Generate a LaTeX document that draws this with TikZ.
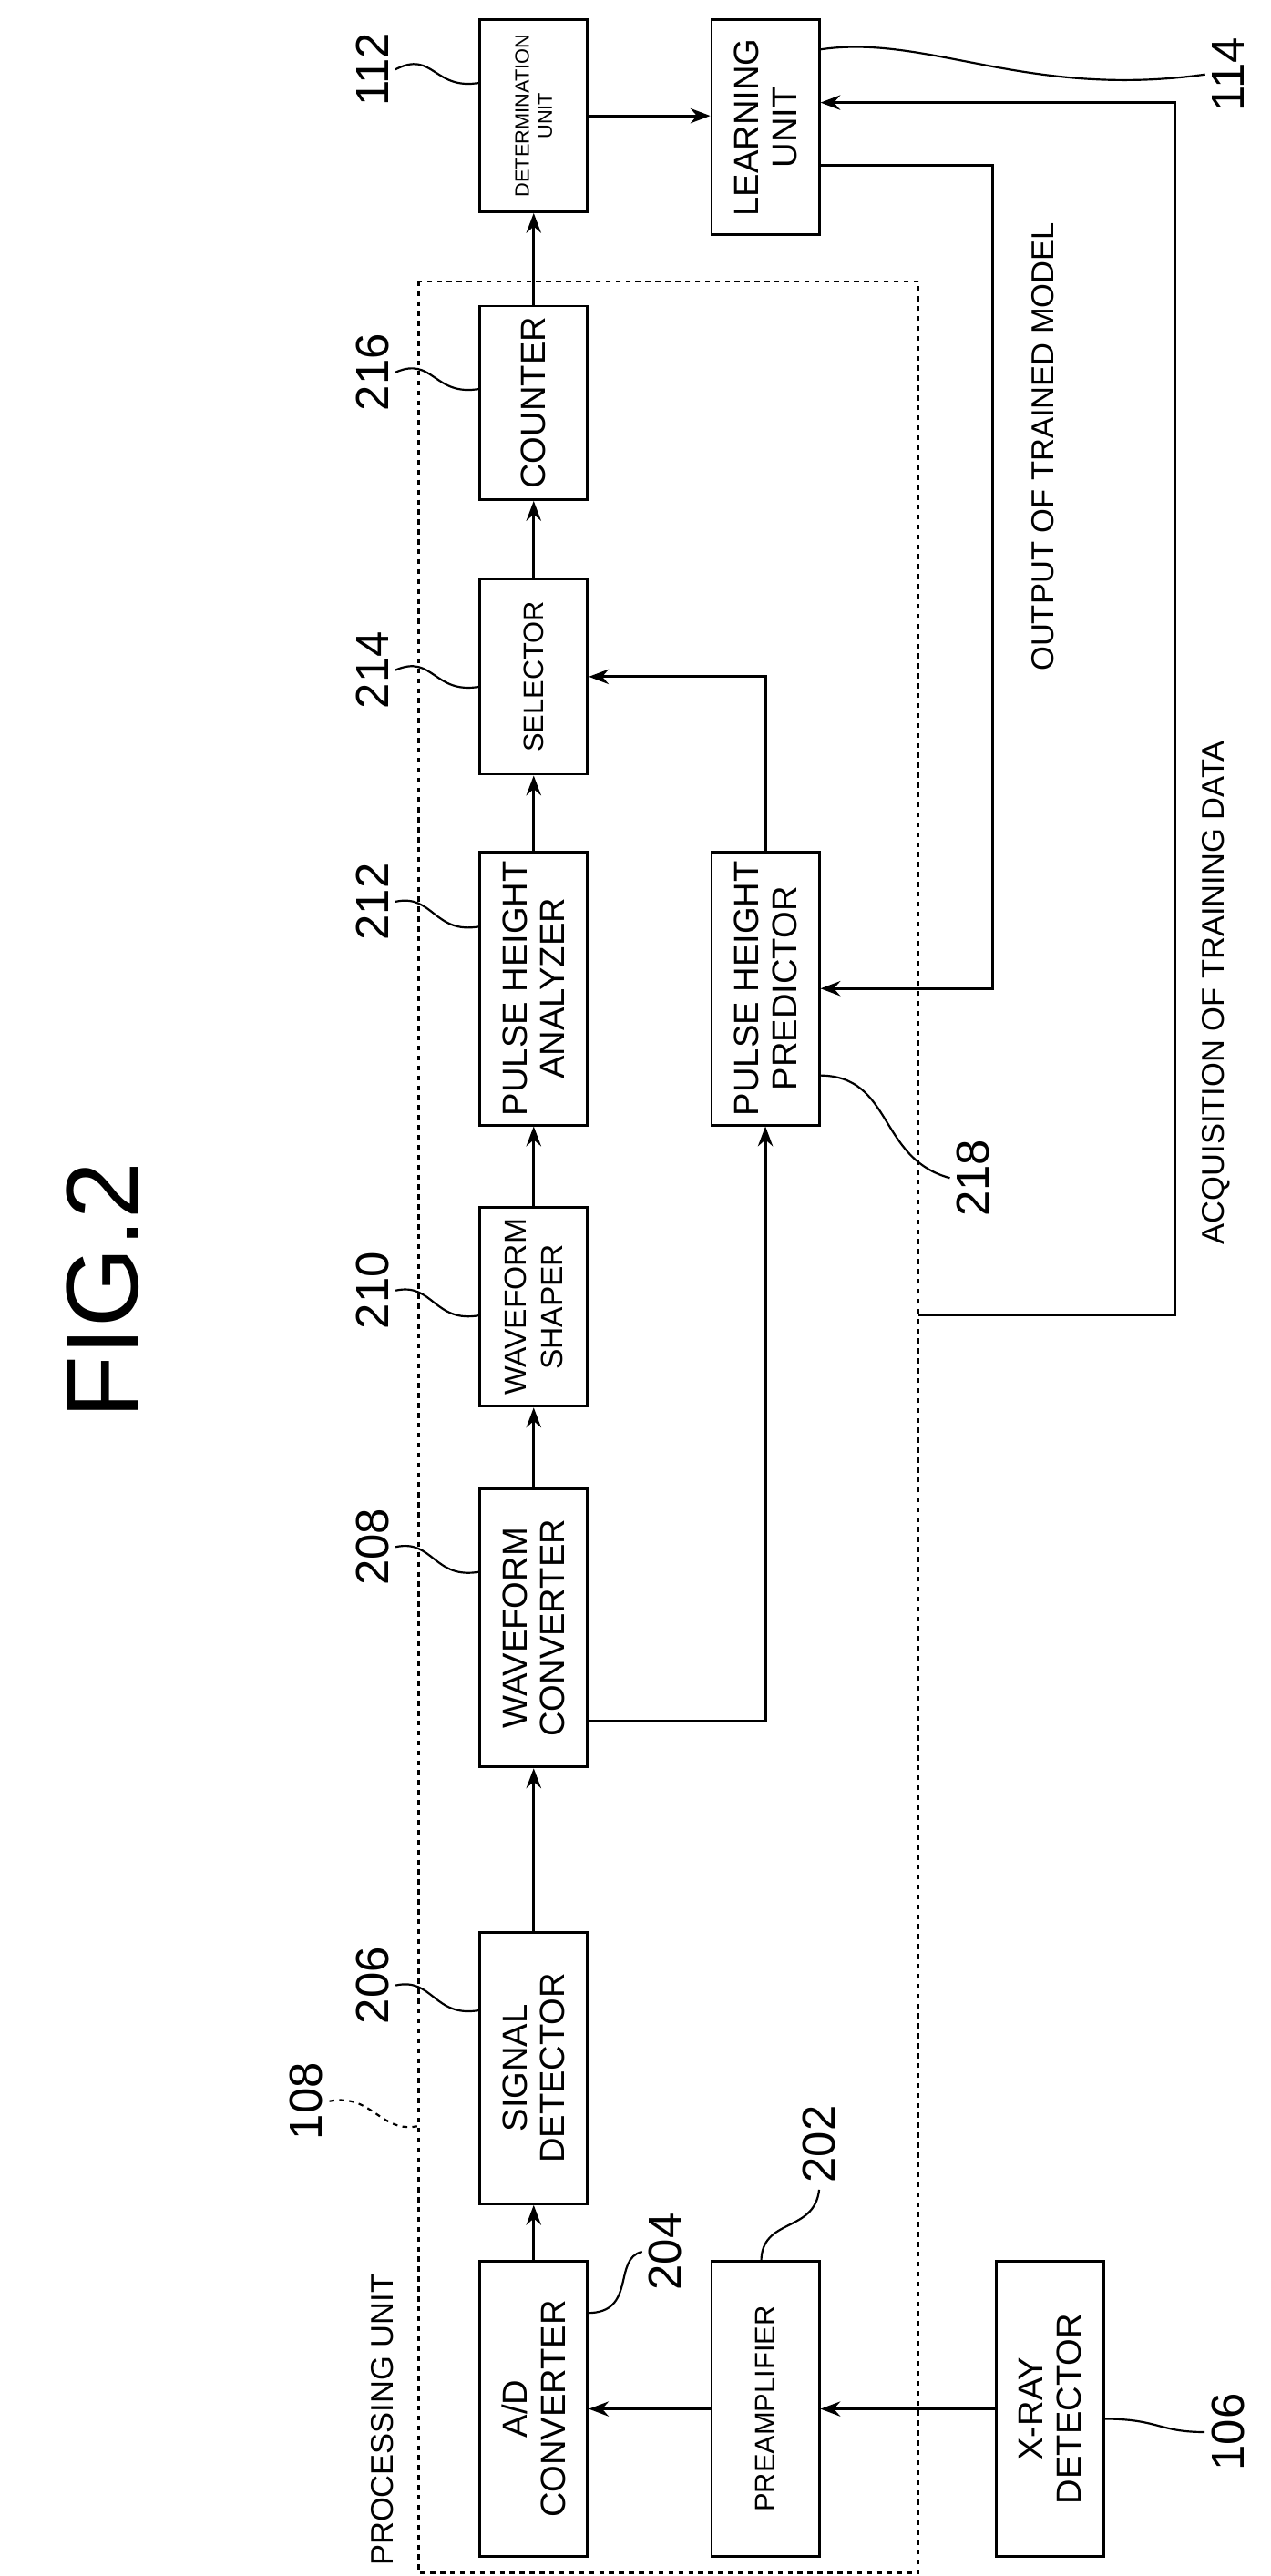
\documentclass[tikz,border=0pt]{standalone}
\usepackage{fontspec}
\setmainfont{Liberation Sans}
\usetikzlibrary{arrows.meta}
\begin{document}
\begin{tikzpicture}[x=1pt,y=1pt,line width=1.6pt,
  box/.style={draw,rectangle,rotate=90,align=center,inner sep=0pt,font=\fontsize{21}{23}\selectfont},
  num/.style={rotate=90,font=\fontsize{28}{30}\selectfont},
  lbl/.style={rotate=90,font=\fontsize{19}{21}\selectfont},
  arr/.style={-{Stealth[length=12pt,width=9pt]}},
  lead/.style={line width=1.2pt}]
\useasboundingbox (0,0) rectangle (768,-1557);
\fill[white] (0,0) rectangle (768,-1557);
\node[box,minimum width=116,minimum height=65,font=\fontsize{12}{14}\selectfont] (det) at (322.5,-70) {DETERMINATION\\UNIT};
\node[box,minimum width=130,minimum height=65] (learn) at (462.5,-77) {LEARNING\\UNIT};
\node[box,minimum width=117,minimum height=65] (cnt) at (322.5,-243.5) {COUNTER};
\node[box,minimum width=118,minimum height=65,font=\fontsize{17}{19}\selectfont] (sel) at (322.5,-409) {SELECTOR};
\node[box,minimum width=165,minimum height=65] (pha) at (322.5,-597.5) {PULSE HEIGHT\\ANALYZER};
\node[box,minimum width=165,minimum height=65] (php) at (462.5,-597.5) {PULSE HEIGHT\\PREDICTOR};
\node[box,minimum width=120,minimum height=65,font=\fontsize{18.5}{22}\selectfont] (ws) at (322.5,-790) {WAVEFORM\\SHAPER};
\node[box,minimum width=168,minimum height=65] (wc) at (322.5,-984) {WAVEFORM\\CONVERTER};
\node[box,minimum width=164,minimum height=65] (sd) at (322.5,-1250) {SIGNAL\\DETECTOR};
\node[box,minimum width=178,minimum height=65] (ad) at (322.5,-1456) {A/D\\CONVERTER};
\node[box,minimum width=178,minimum height=65,font=\fontsize{17}{19}\selectfont] (pa) at (462.5,-1456) {PREAMPLIFIER};
\node[box,minimum width=178,minimum height=65] (xr) at (634.5,-1456) {X-RAY\\DETECTOR};
\draw[dashed,line width=1.3pt] (253,-170) rectangle (555,-1555);
\node[lbl,anchor=south west] (pu) at (242,-1555) {PROCESSING UNIT};
\draw[arr] (ad.east) -- (sd.west);
\draw[arr] (sd.east) -- (wc.west);
\draw[arr] (wc.east) -- (ws.west);
\draw[arr] (ws.east) -- (pha.west);
\draw[arr] (pha.east) -- (sel.west);
\draw[arr] (sel.east) -- (cnt.west);
\draw[arr] (cnt.east) -- (det.west);
\draw[arr] (det.south) -- (det.south -| learn.north);
\draw[arr] (xr.north) -- (pa.south);
\draw[arr] (pa.north) -- (ad.south);
\coordinate (a1) at (355,-1040);
\draw[arr] (a1) -| (php.west);
\draw[arr] (php.east) |- (sel.south);
\coordinate (l1) at (495,-100);
\coordinate (l2) at (600,-100);
\draw[arr] (l1) -- (l2) |- (php.south);
\coordinate (q1) at (555,-795);
\coordinate (q2) at (710,-62);
\draw[arr] (q1) -| (q2) -- (learn.south |- q2);
\node[lbl] (otm) at (630,-270) {OUTPUT OF TRAINED MODEL};
\node[lbl] (atd) at (735,-600) {ACQUISITION OF TRAINING DATA};
\node[rotate=90,font=\fontsize{62}{64}\selectfont] (fig) at (62,-780) {FIG.2};
\node[num] (n112) at (225,-42) {112};
\node[num] (n114) at (742,-45) {114};
\node[num] (n216) at (225,-225) {216};
\node[num] (n214) at (225,-405) {214};
\node[num] (n212) at (225,-545) {212};
\node[num] (n210) at (225,-780) {210};
\node[num] (n208) at (225,-935) {208};
\node[num] (n206) at (225,-1200) {206};
\node[num] (n108) at (185,-1270) {108};
\node[num] (n202) at (495,-1296) {202};
\node[num] (n204) at (402,-1361) {204};
\node[num] (n218) at (588,-712) {218};
\node[num] (n106) at (742,-1470) {106};
\draw[lead] (n112.south) .. controls (262,-30) and (262,-55) .. (290,-50);
\draw[lead] (495,-30) .. controls (560,-20) and (620,-60) .. (n114.north);
\draw[lead] (n216.south) .. controls (262,-215) and (262,-240) .. (290,-235);
\draw[lead] (n214.south) .. controls (262,-395) and (262,-420) .. (290,-415);
\draw[lead] (n212.south) .. controls (262,-540) and (262,-565) .. (290,-560);
\draw[lead] (n210.south) .. controls (262,-775) and (262,-800) .. (290,-795);
\draw[lead] (n208.south) .. controls (262,-930) and (262,-955) .. (290,-950);
\draw[lead] (n206.south) .. controls (262,-1195) and (262,-1220) .. (290,-1215);
\draw[lead,dashed] (n108.south) .. controls (225,-1265) and (230,-1290) .. (253,-1285);
\draw[lead] (n202.west) .. controls (492,-1350) and (460,-1340) .. (460,-1367);
\draw[lead] (355,-1398) .. controls (385,-1398) and (370,-1365) .. (388,-1361);
\draw[lead] (495,-650) .. controls (540,-650) and (530,-700) .. (n218.north);
\draw[lead] (667,-1462) .. controls (700,-1462) and (700,-1470) .. (n106.north);
\end{tikzpicture}
\end{document}
